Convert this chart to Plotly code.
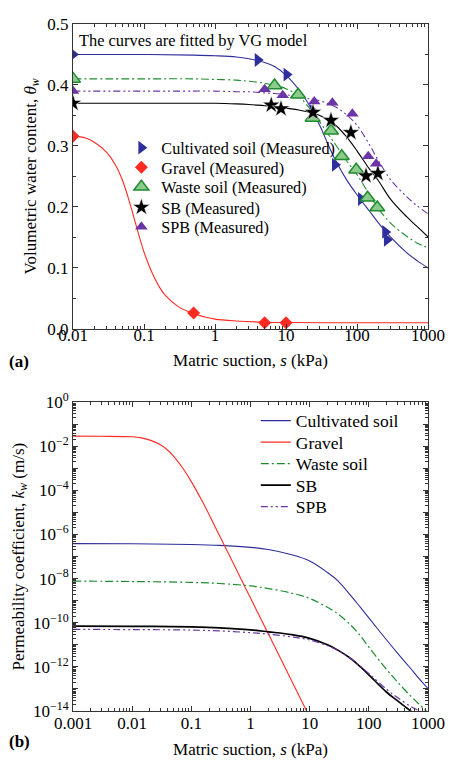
import plotly.graph_objects as go

# ---------------- (a) measured data ----------------
CULT_S = [0.01, 4.0, 10.2, 24, 49, 114, 250, 264]
CULT_T = [0.45, 0.441, 0.417, 0.357, 0.269, 0.213, 0.159, 0.146]
GRAV_S = [0.01, 0.5, 5, 10]
GRAV_T = [0.316, 0.026, 0.010, 0.010]
WASTE_S = [0.01, 6.9, 14.8, 23.7, 43, 61, 97.5, 141, 193]
WASTE_T = [0.41, 0.399, 0.384, 0.346, 0.325, 0.283, 0.261, 0.215, 0.199]
SB_S = [0.01, 6.2, 8.5, 24, 43, 82, 134, 197]
SB_T = [0.37, 0.367, 0.361, 0.355, 0.342, 0.322, 0.251, 0.255]
SPB_S = [0.01, 5, 9, 25, 45, 86, 144, 186]
SPB_T = [0.39, 0.393, 0.383, 0.373, 0.371, 0.353, 0.283, 0.271]

# ---------------- (a) fitted curves ----------------
FIT_S = [0.01, 0.1, 0.5, 1, 2, 3, 5, 7, 10, 15, 20, 30, 40, 50, 70, 100, 150, 200, 300, 500, 700, 1000]
CULT_FIT = [0.450, 0.450, 0.449, 0.448, 0.446, 0.443, 0.437, 0.430, 0.416, 0.393, 0.372, 0.333, 0.300, 0.276,
            0.246, 0.220, 0.193, 0.174, 0.150, 0.125, 0.112, 0.100]
WASTE_FIT = [0.410, 0.410, 0.410, 0.409, 0.408, 0.406, 0.403, 0.399, 0.394, 0.382, 0.366, 0.339, 0.318, 0.302,
             0.277, 0.253, 0.220, 0.197, 0.173, 0.152, 0.141, 0.133]
SB_FIT = [0.370, 0.370, 0.370, 0.370, 0.369, 0.368, 0.366, 0.365, 0.362, 0.359, 0.356, 0.350, 0.342, 0.334,
          0.316, 0.292, 0.262, 0.243, 0.212, 0.184, 0.168, 0.151]
SPB_FIT = [0.390, 0.390, 0.390, 0.390, 0.389, 0.389, 0.387, 0.386, 0.384, 0.381, 0.378, 0.374, 0.369, 0.364,
           0.352, 0.334, 0.302, 0.276, 0.244, 0.217, 0.202, 0.189]
GRAV_FIT_S = [0.01, 0.015, 0.02, 0.03, 0.04, 0.05, 0.06, 0.07, 0.08, 0.1, 0.13, 0.17, 0.2, 0.3, 0.5, 0.7, 1, 2,
              5, 10, 100, 1000]
GRAV_FIT = [0.317, 0.313, 0.306, 0.289, 0.268, 0.243, 0.215, 0.188, 0.164, 0.126, 0.092, 0.066, 0.055, 0.037,
            0.025, 0.020, 0.016, 0.013, 0.011, 0.0105, 0.010, 0.010]

# ---------------- (b) permeability curves, log10(k) ----------------
K_S = [0.001, 0.01, 0.1, 0.3, 1, 2, 5, 10, 20, 30, 50, 70, 100, 200, 300, 500, 700, 1000]
CULT_LOGK = [-6.41, -6.42, -6.45, -6.49, -6.58, -6.68, -6.92, -7.20, -7.72, -8.10, -8.78, -9.26, -9.78,
             -10.78, -11.35, -12.05, -12.52, -12.98]
WASTE_LOGK = [-8.11, -8.13, -8.17, -8.22, -8.33, -8.45, -8.66, -8.90, -9.30, -9.60, -10.12, -10.55, -11.10,
              -12.12, -12.66, -13.30, -13.68, -14.08]
SB_LOGK = [-10.15, -10.16, -10.19, -10.23, -10.32, -10.41, -10.54, -10.71, -11.00, -11.24, -11.63, -11.97,
           -12.36, -13.15, -13.52, -13.98, -14.30, -14.70]
SPB_LOGK = [-10.30, -10.31, -10.33, -10.37, -10.45, -10.52, -10.64, -10.78, -11.04, -11.26, -11.63, -11.95,
            -12.30, -13.02, -13.38, -13.78, -14.00, -14.35]
GRAV_K_S = [0.001, 0.003, 0.01, 0.015, 0.02, 0.03, 0.04, 0.05, 0.07, 0.1, 0.15, 0.2, 0.3, 0.5, 1, 2, 5, 10]
GRAV_LOGK = [-1.54, -1.545, -1.57, -1.63, -1.72, -1.93, -2.18, -2.44, -2.95, -3.60, -4.45, -5.10, -6.05,
             -7.25, -8.88, -10.50, -12.65, -14.28]

# tick labels
XA_TICKS = [0.01, 0.1, 1, 10, 100, 1000]
XA_TEXT = ["0.01", "0.1", "1", "10", "100", "1000"]
XB_TICKS = [0.001, 0.01, 0.1, 1, 10, 100, 1000]
XB_TEXT = ["0.001", "0.01", "0.1", "1", "10", "100", "1000"]
YB_EXP = list(range(0, -15, -1))

FONT = "Liberation Serif"
BLUE = "#2E2E9C"
RED = "#FF2A22"
GREEN = "#1E8C2E"
BLACK = "#000000"
PURPLE = "#6B35A8"
DASHDOT = "8px,3px,2px,3px"
DASHDOTDOT = "7px,3px,2px,3px,2px,3px"

# legend rows (pixel centres, corrected for legend box padding)
LEG_A_ROWS = [141, 161, 181, 202, 222]
LEG_B_ROWS = [420, 442, 464, 486, 508]


def tolog(v):
    return [10 ** x for x in v]


def py(px):
    return (717 - px) / 703


def px_(x):
    return (x - 73) / 367


fig = go.Figure()

# ---- (a) curves
for s, t, c, d in [(FIT_S, CULT_FIT, BLUE, "solid"), (GRAV_FIT_S, GRAV_FIT, RED, "solid"),
                   (FIT_S, WASTE_FIT, GREEN, DASHDOT), (FIT_S, SB_FIT, BLACK, "solid"),
                   (FIT_S, SPB_FIT, PURPLE, DASHDOTDOT)]:
    fig.add_trace(go.Scatter(x=s, y=t, mode="lines", line=dict(color=c, width=1.1, dash=d, shape="spline"),
                             showlegend=False, xaxis="x", yaxis="y", hoverinfo="skip"))

# ---- (a) markers
marker_specs = [
    (CULT_S, CULT_T, "Cultivated soil (Measured)", dict(symbol="triangle-right", size=12, color=BLUE)),
    (GRAV_S, GRAV_T, "Gravel (Measured)", dict(symbol="diamond", size=10, color=RED)),
    (WASTE_S, WASTE_T, "Waste soil (Measured)",
     dict(symbol="triangle-up", size=13, color="#8CCB8C", line=dict(color=GREEN, width=1.5))),
    (SB_S, SB_T, "SB (Measured)", dict(symbol="star", size=13, color=BLACK, line=dict(color="white", width=0.5))),
    (SPB_S, SPB_T, "SPB (Measured)", dict(symbol="triangle-up", size=11, color=PURPLE)),
]
for i, (s, t, n, m) in enumerate(marker_specs):
    fig.add_trace(go.Scatter(x=s, y=t, mode="markers", name=n, marker=m,
                             legend="legend" if i == 0 else "legend%d" % (i + 1), xaxis="x", yaxis="y"))

# ---- (b) curves
line_specs = [(K_S, CULT_LOGK, BLUE, "solid", 1.1, "Cultivated soil"),
              (GRAV_K_S, GRAV_LOGK, RED, "solid", 1.1, "Gravel"),
              (K_S, WASTE_LOGK, GREEN, DASHDOT, 1.2, "Waste soil"),
              (K_S, SB_LOGK, BLACK, "solid", 1.7, "SB"),
              (K_S, SPB_LOGK, PURPLE, DASHDOTDOT, 1.2, "SPB")]
for i, (s, lk, c, d, w, n) in enumerate(line_specs):
    fig.add_trace(go.Scatter(x=s, y=tolog(lk), mode="lines", name=n,
                             line=dict(color=c, width=w, dash=d, shape="spline"),
                             legend="legend%d" % (i + 6), xaxis="x2", yaxis="y2"))


def minor_log(lo, hi):
    vals = []
    for e in range(lo, hi):
        for m in range(2, 10):
            vals.append(m * 10 ** e)
    return vals


axis_common = dict(showline=True, linecolor="#333333", linewidth=1, mirror="ticks", ticks="inside",
                   ticklen=5, tickcolor="#333333", showgrid=False, zeroline=False,
                   tickfont=dict(family=FONT, size=17, color="black"),
                   title_font=dict(family=FONT, size=17, color="black"))

legends = {}
for i in range(5):
    key = "legend" if i == 0 else "legend%d" % (i + 1)
    legends[key] = dict(x=px_(123), y=py(LEG_A_ROWS[i]), xanchor="left", yanchor="middle",
                        bgcolor="rgba(0,0,0,0)", font=dict(family=FONT, size=16.2, color="black"),
                        itemwidth=30)
for i in range(5):
    key = "legend%d" % (i + 6)
    legends[key] = dict(x=px_(262), y=py(LEG_B_ROWS[i]), xanchor="left", yanchor="middle",
                        bgcolor="rgba(0,0,0,0)", font=dict(family=FONT, size=17.5, color="black"),
                        itemwidth=30)

fig.update_layout(
    width=457, height=767, margin=dict(l=73, r=17, t=14, b=50),
    paper_bgcolor="white", plot_bgcolor="white",
    font=dict(family=FONT, size=16, color="black"),
    xaxis=dict(axis_common, type="log", range=[-2, 3], domain=[0, 1], anchor="y",
               tickmode="array", tickvals=XA_TICKS, ticktext=XA_TEXT, ticklabelstandoff=-9,
               minor=dict(tickmode="array", tickvals=minor_log(-2, 3), ticks="inside", ticklen=3,
                          tickcolor="#333333"),
               title=dict(text="Matric suction, <i>s</i> (kPa)", standoff=9)),
    yaxis=dict(axis_common, range=[0, 0.5], domain=[py(326), 1.0], anchor="x", dtick=0.1, tickformat=".1f",
               minor=dict(dtick=0.05, ticks="inside", ticklen=3, tickcolor="#333333"),
               title=dict(text="Volumetric water content, <i>θ</i><sub><i>w</i></sub>", standoff=6)),
    xaxis2=dict(axis_common, type="log", range=[-3, 3], domain=[0, 1], anchor="y2",
                tickmode="array", tickvals=XB_TICKS, ticktext=XB_TEXT, ticklabelstandoff=-3,
                minor=dict(tickmode="array", tickvals=minor_log(-3, 3), ticks="inside", ticklen=3,
                           tickcolor="#333333"),
                title=dict(text="Matric suction, <i>s</i> (kPa)", standoff=10)),
    yaxis2=dict(axis_common, type="log", range=[-14, 0], domain=[0.0, py(401)], anchor="x2",
                tickmode="array", tickvals=[10 ** e for e in YB_EXP],
                ticktext=[("10<sup>%s</sup>" % (str(e).replace("-", "−"))) if e % 2 == 0 else ""
                          for e in YB_EXP],
                minor=dict(tickmode="array", tickvals=minor_log(-14, 0), ticks="inside", ticklen=3,
                           tickcolor="#333333"),
                title=dict(text="Permeability coefficient, <i>k</i><sub><i>w</i></sub> (m/s)", standoff=4)),
    annotations=[
        dict(text="The curves are fitted by VG model", xref="x domain", yref="y domain", x=0.012, y=0.985,
             xanchor="left", yanchor="top", showarrow=False, font=dict(family=FONT, size=16.4, color="black")),
        dict(text="<b>(a)</b>", xref="paper", yref="paper", x=px_(5), y=py(359),
             xanchor="left", yanchor="middle", showarrow=False, font=dict(family=FONT, size=17, color="black")),
        dict(text="<b>(b)</b>", xref="paper", yref="paper", x=px_(5), y=py(748),
             xanchor="left", yanchor="middle", showarrow=False, font=dict(family=FONT, size=17, color="black")),
    ],
    **legends,
)

fig.write_html("out.html")
